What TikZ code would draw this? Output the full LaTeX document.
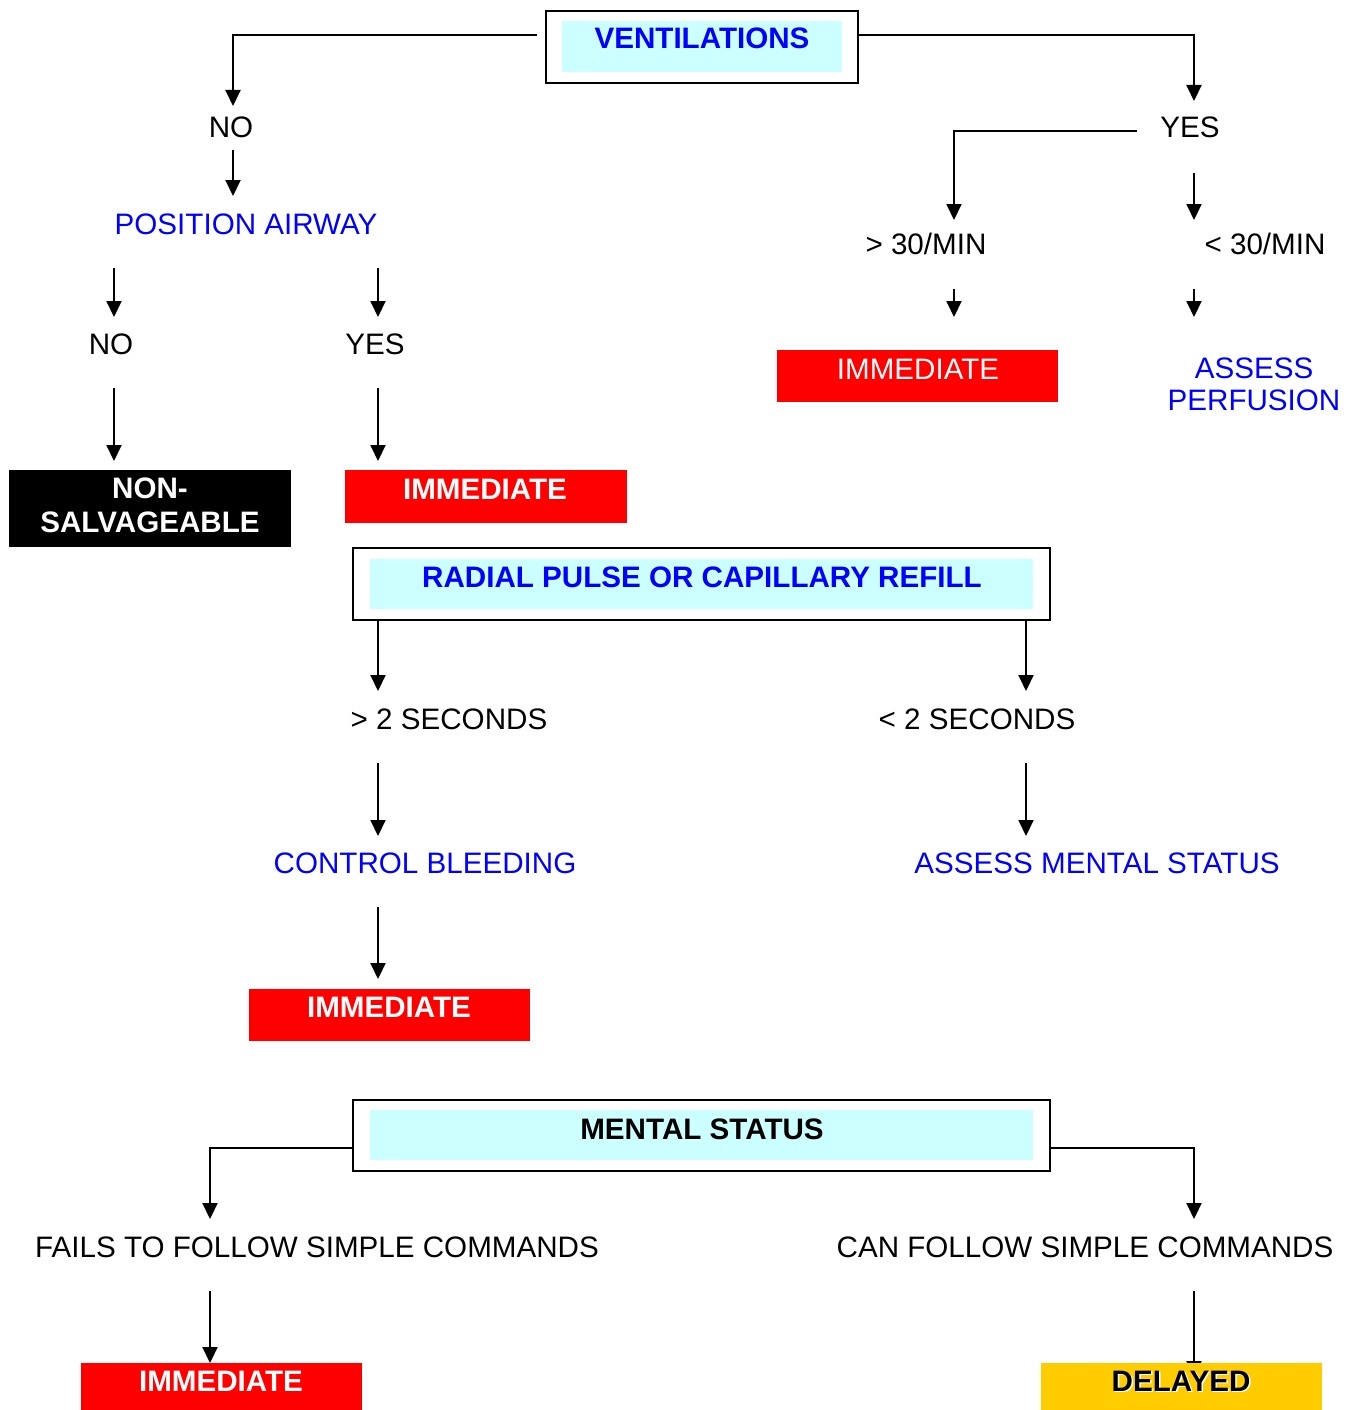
\documentclass[tikz,border=0pt]{standalone}
\usepackage{fontspec}
\setmainfont{Liberation Sans}
\usetikzlibrary{arrows.meta}
\definecolor{cyanbg}{HTML}{CCFFFF}
\definecolor{tblue}{HTML}{0000FF}
\definecolor{tred}{HTML}{FF0000}
\definecolor{tyel}{HTML}{FFCC00}
\tikzset{
  txt/.style={anchor=base, inner sep=0pt, font=\fontsize{29.6}{34}\selectfont},
  btxt/.style={anchor=base, inner sep=0pt, font=\fontsize{29.6}{34}\selectfont\bfseries},
  frame/.style={draw=black, line width=2.5pt, fill=white, inner sep=0pt},
  cyanfill/.style={fill=cyanbg, draw=none, inner sep=0pt},
  solid box/.style={draw=none, inner sep=0pt},
  conn/.style={line width=2pt, draw=black},
  arr/.style={conn, -{Triangle[width=15pt,length=16pt]}},
}
\begin{document}
\begin{tikzpicture}[x=1pt,y=-1pt]
\useasboundingbox (0,0) rectangle (1349,1410);

% ---- connectors (drawn first, boxes cover ends) ----
\coordinate (a1s) at (537,35);  \coordinate (a1b) at (233,35);  \coordinate (a1e) at (233,106);
\coordinate (a2s) at (858,35);  \coordinate (a2b) at (1194,35); \coordinate (a2e) at (1194,101);
\coordinate (a3s) at (233,150); \coordinate (a3e) at (233,196);
\coordinate (a4s) at (114,268); \coordinate (a4e) at (114,317);
\coordinate (a5s) at (378,268); \coordinate (a5e) at (378,317);
\coordinate (a6s) at (114,388); \coordinate (a6e) at (114,461);
\coordinate (a7s) at (378,388); \coordinate (a7e) at (378,461);
\coordinate (a8s) at (1137,131); \coordinate (a8b) at (954,131); \coordinate (a8e) at (954,220);
\coordinate (a9s) at (1194,173); \coordinate (a9e) at (1194,220);
\coordinate (a10s) at (954,289); \coordinate (a10e) at (954,317);
\coordinate (a11s) at (1194,289); \coordinate (a11e) at (1194,317);
\coordinate (a12s) at (378,621); \coordinate (a12e) at (378,691);
\coordinate (a13s) at (1026,621); \coordinate (a13e) at (1026,691);
\coordinate (a14s) at (378,763); \coordinate (a14e) at (378,836);
\coordinate (a15s) at (1026,763); \coordinate (a15e) at (1026,836);
\coordinate (a16s) at (378,907); \coordinate (a16e) at (378,979);
\coordinate (a17s) at (353,1148); \coordinate (a17b) at (210,1148); \coordinate (a17e) at (210,1219);
\coordinate (a18s) at (1050,1148); \coordinate (a18b) at (1194,1148); \coordinate (a18e) at (1194,1219);
\coordinate (a19s) at (210,1291); \coordinate (a19e) at (210,1363);
\coordinate (a20s) at (1194,1291); \coordinate (a20e) at (1194,1377);

\draw[arr] (a1s) -- (a1b) -- (a1e);
\draw[arr] (a2s) -- (a2b) -- (a2e);
\draw[arr] (a3s) -- (a3e);
\draw[arr] (a4s) -- (a4e);
\draw[arr] (a5s) -- (a5e);
\draw[arr] (a6s) -- (a6e);
\draw[arr] (a7s) -- (a7e);
\draw[arr] (a8s) -- (a8b) -- (a8e);
\draw[arr] (a9s) -- (a9e);
\draw[arr] (a10s) -- (a10e);
\draw[arr] (a11s) -- (a11e);
\draw[arr] (a12s) -- (a12e);
\draw[arr] (a13s) -- (a13e);
\draw[arr] (a14s) -- (a14e);
\draw[arr] (a15s) -- (a15e);
\draw[arr] (a16s) -- (a16e);
\draw[arr] (a17s) -- (a17b) -- (a17e);
\draw[arr] (a18s) -- (a18b) -- (a18e);
\draw[arr] (a19s) -- (a19e);
\draw[arr] (a20s) -- (a20e);

% ---- framed header boxes ----
\node[frame, minimum width=312pt, minimum height=72pt] (vent) at (702,47) {};
\node[cyanfill, minimum width=280pt, minimum height=51pt] (ventin) at (702,46.5) {};
\node[btxt, text=tblue] (ventt) at (702,49) {VENTILATIONS};

\node[frame, minimum width=697pt, minimum height=72pt] (rad) at (701.5,584) {};
\node[cyanfill, minimum width=663pt, minimum height=50pt] (radin) at (701.5,584) {};
\node[btxt, text=tblue] (radt) at (702,587) {RADIAL PULSE OR CAPILLARY REFILL};

\node[frame, minimum width=697pt, minimum height=71pt] (ment) at (701.5,1135.5) {};
\node[cyanfill, minimum width=663pt, minimum height=50pt] (mentin) at (701.5,1135) {};
\node[btxt, text=black] (mentt) at (702,1139) {MENTAL STATUS};

% ---- coloured result boxes ----
\node[solid box, fill=black, minimum width=282pt, minimum height=77pt] (nonbox) at (150,508.5) {};
\node[btxt, text=white] (non1) at (150,498) {NON-};
\node[btxt, text=white] (non2) at (150,532) {SALVAGEABLE};

\node[solid box, fill=tred, minimum width=282pt, minimum height=53pt] (imm1) at (486,496.5) {};
\node[btxt, text=white] (imm1t) at (485,499) {IMMEDIATE};

\node[solid box, fill=tred, minimum width=281pt, minimum height=52pt] (imm2) at (917.5,376) {};
\node[txt, text=white] (imm2t) at (918,379) {IMMEDIATE};

\node[solid box, fill=tred, minimum width=281pt, minimum height=52pt] (imm3) at (389.5,1015) {};
\node[btxt, text=white] (imm3t) at (389,1017) {IMMEDIATE};

\node[solid box, fill=tred, minimum width=281pt, minimum height=47pt] (imm4) at (221.5,1386.5) {};
\node[btxt, text=white] (imm4t) at (221,1391) {IMMEDIATE};

\node[solid box, fill=tyel, minimum width=281pt, minimum height=47pt] (del) at (1181.5,1386.5) {};
\node[btxt, text=white] (delsh) at (1182.5,1392) {DELAYED};
\node[btxt, text=black] (delt) at (1181,1391) {DELAYED};

% ---- plain labels ----
\node[txt] (no1) at (231,138) {NO};
\node[txt, text=tblue] (pos) at (246,234) {POSITION AIRWAY};
\node[txt] (no2) at (111,354) {NO};
\node[txt] (yes1) at (375,354) {YES};
\node[txt] (yes2) at (1190,138) {YES};
\node[txt] (gt30) at (926,254) {> 30/MIN};
\node[txt] (lt30) at (1265,254) {< 30/MIN};
\node[txt, text=tblue] (ass1) at (1254,378) {ASSESS};
\node[txt, text=tblue] (ass2) at (1254,410) {PERFUSION};
\node[txt] (gt2) at (449,729) {> 2 SECONDS};
\node[txt] (lt2) at (977,729) {< 2 SECONDS};
\node[txt, text=tblue] (ctrl) at (425,873) {CONTROL BLEEDING};
\node[txt, text=tblue] (assm) at (1097,873) {ASSESS MENTAL STATUS};
\node[txt] (fails) at (317,1257) {FAILS TO FOLLOW SIMPLE COMMANDS};
\node[txt] (can) at (1085,1257) {CAN FOLLOW SIMPLE COMMANDS};
\end{tikzpicture}
\end{document}
